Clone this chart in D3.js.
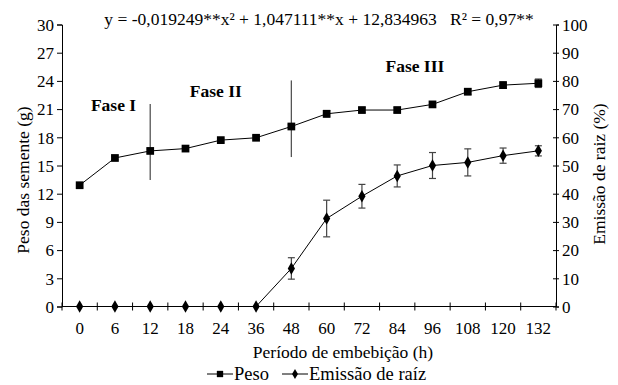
<!DOCTYPE html>
<html>
<head>
<meta charset="utf-8">
<script src="https://cdn.jsdelivr.net/npm/d3@7"></script>
<style>
  body { margin: 0; background: #fff; }
  text { font-family: "Liberation Serif", "Times New Roman", serif; fill: #000; }
</style>
</head>
<body>
<div id="chart"></div>
<script>
// categories (h)
var periods = ["0", "6", "12", "18", "24", "36", "48", "60", "72", "84", "96", "108", "120", "132"];
// Peso das sementes (g)
var peso = [12.9, 15.8, 16.55, 16.8, 17.7, 17.95, 19.15, 20.5, 20.9, 20.9, 21.5, 22.85, 23.55, 23.75];
var pesoErr = [0.2, 0.2, 0.2, 0.2, 0.2, 0.2, 0.2, 0.35, 0.25, 0.25, 0.25, 0.3, 0.35, 0.45];
// Emissao de raiz (%)
var raiz = [0, 0, 0, 0, 0, 0, 13.5, 31.2, 39.1, 46.3, 50.0, 51.1, 53.5, 55.2];
var raizErr = [0, 0, 0, 0, 0, 0, 3.8, 6.5, 4.2, 3.9, 4.6, 4.8, 2.7, 1.8];
// phase separators drawn on the left axis scale
var phaseLines = [
  {period: "12", low: 13.45, high: 21.55},
  {period: "48", low: 15.9, high: 24.05}
];
// label position: fractional category index + value on left axis
var phaseLabels = [
  {text: "Fase I", idx: 0.96, value: 20.8},
  {text: "Fase II", idx: 3.86, value: 22.25},
  {text: "Fase III", idx: 9.5, value: 25.0}
];
var leftTicks = [0, 3, 6, 9, 12, 15, 18, 21, 24, 27, 30];
var rightTicks = [0, 10, 20, 30, 40, 50, 60, 70, 80, 90, 100];

var W = 618, H = 385;
var margin = {top: 24.5, right: 62, bottom: 78.5, left: 62};
var width = W - margin.left - margin.right,
    height = H - margin.top - margin.bottom;

var svg = d3.select("#chart").append("svg")
    .attr("width", W)
    .attr("height", H);
var g = svg.append("g")
    .attr("transform", "translate(" + margin.left + "," + margin.top + ")");

var x = d3.scaleBand().domain(periods).range([0, width]);
var cx = function(p) { return x(p) + x.bandwidth() / 2; };
var xi = d3.scaleLinear().domain([-0.5, periods.length - 0.5]).range([0, width]);
var yL = d3.scaleLinear().domain([0, 30]).range([height, 0]);
var yR = d3.scaleLinear().domain([0, 100]).range([height, 0]);

// left axis
var axL = g.append("g")
    .call(d3.axisLeft(yL).tickValues(leftTicks).tickSize(5).tickPadding(3));
// right axis, ticks cross the line
var axR = g.append("g")
    .attr("transform", "translate(" + width + ",0)")
    .call(d3.axisRight(yR).tickValues(rightTicks).tickSize(3).tickPadding(3));
axR.selectAll(".tick line").attr("x1", -3);

// x axis: ticks on band boundaries, labels at centres
var axB = g.append("g").attr("transform", "translate(0," + height + ")");
axB.append("line").attr("x1", 0).attr("x2", width).attr("stroke", "#000");
axB.selectAll(".bt")
    .data(d3.range(periods.length + 1))
    .enter().append("line")
    .attr("x1", function(i) { return i * x.step(); })
    .attr("x2", function(i) { return i * x.step(); })
    .attr("y1", -4).attr("y2", 4)
    .attr("stroke", "#000");
axB.selectAll(".bl")
    .data(periods)
    .enter().append("text")
    .attr("x", cx)
    .attr("y", 27)
    .attr("text-anchor", "middle")
    .style("font-size", "17px")
    .text(function(d) { return d; });

[axL, axR].forEach(function(a) {
  a.attr("font-family", null);
  a.select(".domain").attr("stroke", "#000");
  a.selectAll(".tick line").attr("stroke", "#000");
  a.selectAll("text").style("font-size", "17px").attr("dy", "0.34em");
});

// axis titles
svg.append("text")
    .attr("transform", "translate(29,180) rotate(-90)")
    .attr("text-anchor", "middle")
    .style("font-size", "17.5px")
    .text("Peso das semente (g)");
svg.append("text")
    .attr("transform", "translate(605,174) rotate(-90)")
    .attr("text-anchor", "middle")
    .style("font-size", "17.5px")
    .text("Emissão de raiz (%)");
svg.append("text")
    .attr("x", 343)
    .attr("y", 358)
    .attr("text-anchor", "middle")
    .style("font-size", "17.5px")
    .text("Período de embebição (h)");

// equation
svg.append("text")
    .attr("x", 319)
    .attr("y", 25)
    .attr("text-anchor", "middle")
    .style("font-size", "17.5px")
    .style("white-space", "pre")
    .text("y = -0,019249**x² + 1,047111**x + 12,834963   R² = 0,97**");

// phase separators
g.selectAll(".phase")
    .data(phaseLines)
    .enter().append("line")
    .attr("x1", function(d) { return cx(d.period); })
    .attr("x2", function(d) { return cx(d.period); })
    .attr("y1", function(d) { return yL(d.high); })
    .attr("y2", function(d) { return yL(d.low); })
    .attr("stroke", "#555")
    .attr("stroke-width", 1.3);

g.selectAll(".phlab")
    .data(phaseLabels)
    .enter().append("text")
    .attr("x", function(d) { return xi(d.idx); })
    .attr("y", function(d) { return yL(d.value); })
    .attr("text-anchor", "middle")
    .style("font-size", "17.5px")
    .style("font-weight", "bold")
    .text(function(d) { return d.text; });

function errorBars(vals, errs, y, cls) {
  var data = periods.map(function(p, i) { return {p: p, v: vals[i], e: errs[i]}; })
      .filter(function(d) { return d.e > 0; });
  var eb = g.selectAll("." + cls).data(data).enter().append("g").attr("class", cls);
  eb.append("line")
      .attr("x1", function(d) { return cx(d.p); }).attr("x2", function(d) { return cx(d.p); })
      .attr("y1", function(d) { return y(d.v + d.e); }).attr("y2", function(d) { return y(d.v - d.e); });
  eb.append("line")
      .attr("x1", function(d) { return cx(d.p) - 3.5; }).attr("x2", function(d) { return cx(d.p) + 3.5; })
      .attr("y1", function(d) { return y(d.v + d.e); }).attr("y2", function(d) { return y(d.v + d.e); });
  eb.append("line")
      .attr("x1", function(d) { return cx(d.p) - 3.5; }).attr("x2", function(d) { return cx(d.p) + 3.5; })
      .attr("y1", function(d) { return y(d.v - d.e); }).attr("y2", function(d) { return y(d.v - d.e); });
  eb.selectAll("line").attr("stroke", "#444").attr("stroke-width", 1.2);
}
errorBars(peso, pesoErr, yL, "ebp");
errorBars(raiz, raizErr, yR, "ebr");

var linePeso = d3.line().x(function(d, i) { return cx(periods[i]); }).y(function(d) { return yL(d); });
var lineRaiz = d3.line().x(function(d, i) { return cx(periods[i]); }).y(function(d) { return yR(d); });

g.append("path").datum(peso).attr("d", linePeso)
    .attr("fill", "none").attr("stroke", "#000").attr("stroke-width", 1);
g.append("path").datum(raiz).attr("d", lineRaiz)
    .attr("fill", "none").attr("stroke", "#000").attr("stroke-width", 1);

var sq = d3.symbol().type(d3.symbolSquare).size(60);
var dm = d3.symbol().type(d3.symbolDiamond).size(45);

g.selectAll(".mp").data(peso).enter().append("path")
    .attr("d", sq)
    .attr("transform", function(d, i) { return "translate(" + cx(periods[i]) + "," + yL(d) + ")"; })
    .attr("fill", "#000");
g.selectAll(".mr").data(raiz).enter().append("path")
    .attr("d", dm)
    .attr("transform", function(d, i) { return "translate(" + cx(periods[i]) + "," + yR(d) + ")"; })
    .attr("fill", "#000");

// legend
var leg = svg.append("g").attr("transform", "translate(0,374)");
var items = [
  {label: "Peso", sym: d3.symbolSquare, size: 40, x: 207},
  {label: "Emissão de raíz", sym: d3.symbolDiamond, size: 30, x: 282}
];
items.forEach(function(it) {
  leg.append("line").attr("x1", it.x).attr("x2", it.x + 26).attr("y1", 0).attr("y2", 0)
      .attr("stroke", "#000");
  leg.append("path").attr("d", d3.symbol().type(it.sym).size(it.size)())
      .attr("transform", "translate(" + (it.x + 13) + ",0)");
  leg.append("text").attr("x", it.x + 27).attr("y", 5.5)
      .style("font-size", "18.5px")
      .text(it.label);
});
</script>
</body>
</html>
